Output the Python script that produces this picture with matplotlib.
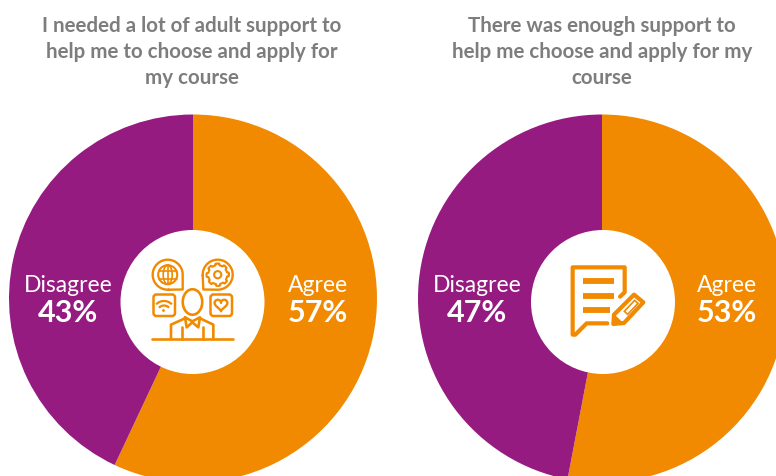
import numpy as np
from matplotlib import pyplot as plt
from matplotlib.patches import Circle, Ellipse, FancyBboxPatch, Polygon

# chart values
titles = ["I needed a lot of adult support to\nhelp me to choose and apply for\nmy course",
          "There was enough support to\nhelp me choose and apply for my\ncourse"]
labels = ["Agree", "Disagree"]
left_values = [57, 43]
right_values = [53, 47]

ORANGE = "#f18a00"
PURPLE = "#951b81"
GREY = "#7d7d7d"
H = 477

plt.rcParams["font.family"] = ["Lato", "DejaVu Sans"]

fig = plt.figure(figsize=(7.76, 4.77), dpi=100)
ax = fig.add_axes([0, 0, 1, 1])


def line(xs, ys, lw=2.0):
    ax.plot(xs, [H - y for y in ys], color=ORANGE, lw=lw, solid_capstyle="round",
            solid_joinstyle="round", zorder=5)


def donut(values, cx, tx, title, lx, rx):
    # pie first, hole sits a little lower than the pie centre in the original
    ax.pie(values, center=(cx, H - 299.5), radius=184, startangle=90, counterclock=False,
           colors=[ORANGE, PURPLE], wedgeprops={"linewidth": 0})
    ax.add_patch(Circle((tx, H - 303), 72, fc="white", ec="none", zorder=3))
    ax.text(tx - 1, H - 52, title, ha="center", va="center", fontsize=14.8, color=GREY,
            fontweight="bold", linespacing=1.36)
    ax.text(rx, H - 285, labels[0], ha="center", va="center", fontsize=16.5, color="white", zorder=4)
    ax.text(rx, H - 313, f"{values[0]}%", ha="center", va="center", fontsize=22,
            color="white", fontweight="bold", zorder=4)
    ax.text(lx, H - 285, labels[1], ha="center", va="center", fontsize=16.5, color="white", zorder=4)
    ax.text(lx, H - 313, f"{values[1]}%", ha="center", va="center", fontsize=22,
            color="white", fontweight="bold", zorder=4)


def bubble(cx, cy, tipx, tipy):
    # circle with one square corner pointing at the tip
    a0 = np.arctan2(tipy - cy, tipx - cx)
    t = np.linspace(a0 + 0.75, a0 + 2 * np.pi - 0.75, 60)
    xs = list(cx + 15 * np.cos(t)) + [tipx, cx + 15 * np.cos(t[0])]
    ys = list(cy + 15 * np.sin(t)) + [tipy, cy + 15 * np.sin(t[0])]
    line(xs, ys, 1.7)


def person_icon():
    z = lambda px, py: (120 + px / 3, 225 + py / 3)
    # globe bubble
    bubble(167.7, 275.7, 182.7, 290.5)
    ax.add_patch(Circle((167.7, H - 275.7), 9.5, fc="none", ec=ORANGE, lw=1.5, zorder=5))
    ax.add_patch(Ellipse((167.7, H - 275.7), 9, 19, fc="none", ec=ORANGE, lw=1.2, zorder=5))
    line([158.5, 177], [272, 272], 1.2)
    line([158.5, 177], [279.5, 279.5], 1.2)
    line([167.7, 167.7], [266, 285], 1.2)
    # gear bubble
    bubble(217.7, 275.7, 203.3, 290.5)
    t = np.linspace(0, 2 * np.pi, 97)
    r = 9.5 + 1.7 * (np.cos(8 * t) > 0)
    ax.plot(217.7 + r * np.cos(t), H - 275.7 + r * np.sin(t), color=ORANGE, lw=1.5, zorder=5)
    ax.add_patch(Circle((217.7, H - 275.7), 3.6, fc="none", ec=ORANGE, lw=1.5, zorder=5))
    # wifi and heart squares
    for x0 in (153.5, 210.5):
        ax.add_patch(FancyBboxPatch((x0, H - 317), 21.5, 21.5, boxstyle="round,pad=0,rounding_size=3",
                                    fc="none", ec=ORANGE, lw=1.8, zorder=5))
    for rad in (11, 6.5):
        t = np.radians(np.linspace(50, 130, 20))
        ax.plot(164 + rad * np.cos(t), H - 313 + rad * np.sin(t), color=ORANGE, lw=1.6, zorder=5)
    ax.add_patch(Circle((163.5, H - 311.5), 1.4, fc=ORANGE, ec="none", zorder=5))
    t = np.linspace(0, 2 * np.pi, 60)
    hx = 221 + 0.4 * 16 * np.sin(t) ** 3
    hy = 305.5 - 0.4 * (13 * np.cos(t) - 5 * np.cos(2 * t) - 2 * np.cos(3 * t) - np.cos(4 * t))
    line(hx, hy, 1.7)
    # person
    ax.add_patch(Ellipse((192.5, H - 303), 19.5, 25.5, fc="white", ec=ORANGE, lw=1.9, zorder=5))
    for pts in ([(153, 345), (153, 302), (195, 283)], [(280, 345), (280, 302), (240, 283)],
                [(185, 345), (185, 310)], [(250, 345), (250, 310)],
                [(97, 345), (338, 345)],
                [(195, 280), (217, 292), (240, 280), (235, 310), (217, 295), (200, 310), (195, 280)]):
        p = [z(*q) for q in pts]
        line([q[0] for q in p], [q[1] for q in p], 1.9)


def form_icon():
    z = lambda px, py: (530 + px / 3, 225 + py / 3)
    pts = [(270, 218), (284, 205), (284, 130), (128, 130), (128, 332), (136, 332), (170, 298), (232, 298)]
    p = [z(*q) for q in pts]
    line([q[0] for q in p], [q[1] for q in p], 3.0)
    for y, x1 in ((172, 252), (215, 252), (257, 240)):
        a, b = z(160, y), z(x1, y)
        ax.plot([a[0], b[0]], [H - a[1], H - b[1]], color=ORANGE, lw=4.2, solid_capstyle="butt", zorder=5)
    outer = [z(*q) for q in [(252, 272), (312, 212), (340, 235), (282, 297), (250, 300)]]
    ax.add_patch(Polygon([(x, H - y) for x, y in outer], closed=True, fc="white", ec=ORANGE, lw=3.0,
                         joinstyle="round", zorder=5))
    inner = [z(*q) for q in [(283, 262), (314, 229), (324, 238), (293, 271)]]
    ax.add_patch(Polygon([(x, H - y) for x, y in inner], closed=True, fc="white", ec=ORANGE, lw=1.2, zorder=7))
    tip = [z(*q) for q in [(250, 300), (254, 272), (278, 295)]]
    ax.add_patch(Polygon([(x, H - y) for x, y in tip], closed=True, fc=ORANGE, ec="none", zorder=6))


donut(left_values, 193, 192.5, titles[0], 68, 318)
donut(right_values, 602, 603, titles[1], 477, 727)
person_icon()
form_icon()

ax.set_xlim(0, 776)
ax.set_ylim(0, H)
ax.set_aspect("auto")
ax.axis("off")
fig.savefig("out.png", dpi=100, facecolor="white")
